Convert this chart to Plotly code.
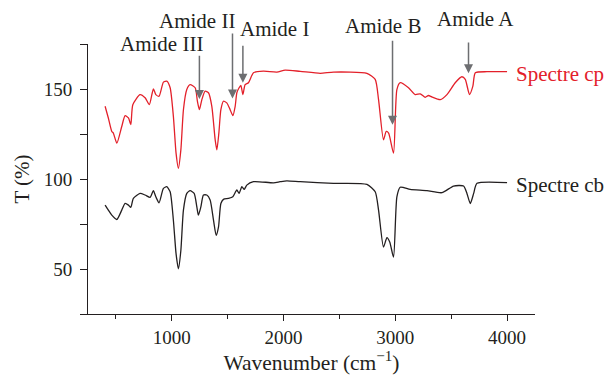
import plotly.graph_objects as go

# Wavenumber (cm-1) and transmittance (%)
cp_wavenumber = [403, 432, 463, 477, 508, 552, 582, 612, 633, 651, 716, 761, 799, 835, 857, 886, 925, 955,
                 985, 1014, 1038, 1059, 1081, 1104, 1134, 1164, 1209, 1229, 1247, 1269, 1298, 1328, 1358,
                 1388, 1403, 1421, 1439, 1462, 1492, 1522, 1546, 1567, 1582, 1602, 1618, 1636, 1656, 1686,
                 1731, 1820, 1940, 2014, 2149, 2328, 2447, 2746, 2820, 2850, 2894, 2919, 2940, 2984, 3014,
                 3044, 3118, 3178, 3223, 3268, 3297, 3327, 3402, 3462, 3536, 3596, 3626, 3664, 3694, 3716,
                 3820, 4000]
cp_transmittance = [140.4, 133.9, 126.4, 125.5, 119.9, 129.2, 135.2, 133.9, 130.2, 141.3, 146.9, 145.1, 141.3,
                    150.1, 146.9, 146.0, 153.8, 154.4, 150.7, 134.8, 114.4, 106.0, 116.2, 138.5, 149.7, 152.4,
                    150.7, 143.2, 138.5, 144.1, 148.8, 147.9, 140.4, 121.8, 116.2, 125.5, 138.5, 143.2, 142.3,
                    138.5, 135.2, 140.4, 147.9, 150.7, 152.0, 146.9, 152.4, 153.5, 159.0, 159.9, 159.4, 160.5,
                    159.8, 158.7, 159.4, 158.7, 155.3, 144.1, 121.8, 126.4, 125.5, 114.4, 149.7, 153.5, 150.7,
                    146.9, 147.3, 145.4, 146.4, 145.6, 144.1, 146.9, 153.5, 156.8, 155.3, 146.9, 151.6, 159.0,
                    159.6, 159.6]

cb_wavenumber = [403, 432, 463, 508, 552, 582, 612, 633, 656, 716, 761, 806, 835, 857, 886, 925, 955, 985,
                 1014, 1038, 1059, 1081, 1104, 1134, 1164, 1200, 1224, 1238, 1260, 1283, 1313, 1343, 1373,
                 1397, 1418, 1439, 1462, 1507, 1546, 1582, 1602, 1627, 1648, 1671, 1731, 1910, 1969, 2029,
                 2149, 2447, 2746, 2820, 2850, 2894, 2925, 2950, 2984, 3014, 3044, 3133, 3283, 3417, 3521,
                 3611, 3641, 3671, 3701, 3731, 4000]
cb_transmittance = [85.5, 82.7, 79.9, 77.5, 82.7, 86.4, 85.5, 84.2, 89.2, 92.0, 91.1, 89.8, 93.5, 90.1, 86.8,
                    94.8, 95.7, 92.9, 77.1, 58.5, 50.1, 60.3, 82.7, 92.0, 93.5, 92.0, 84.5, 79.9, 84.5, 91.1,
                    91.1, 88.3, 77.1, 68.7, 73.4, 86.4, 88.7, 89.2, 90.1, 93.9, 92.0, 95.7, 94.2, 96.6, 98.5,
                    97.9, 98.5, 99.0, 98.5, 97.6, 97.0, 92.9, 82.7, 62.2, 67.4, 65.0, 56.6, 90.1, 95.4, 94.2,
                    93.5, 92.4, 96.1, 96.1, 92.0, 86.4, 92.0, 97.6, 98.0]

series_names = ["Spectre cp", "Spectre cb"]
series_colors = ["#e3202a", "#231f20"]

band_labels = ["Amide III", "Amide II", "Amide I", "Amide B", "Amide A"]
band_arrow_x = [1247, 1543, 1636, 2975, 3655]
band_arrow_tip = [144.5, 144.7, 153.5, 130.2, 158.7]
band_arrow_tail = [169.3, 181.6, 174.9, 177.7, 176.7]
band_text_x = [904, 1224, 1916, 2892, 3721]
band_text_y = [174.9, 187.9, 183.2, 185.1, 188.8]

x_ticks = [1000, 2000, 3000, 4000]
y_ticks = [50, 100, 150]
Y_RANGE = [25, 175]

FONT = "Liberation Serif"
TXT = "#231f20"

# the page body has a default 8px margin; the figure is sized to fit inside the window
BODY = 8


def to_dom(v):
    return (v - Y_RANGE[0]) / (Y_RANGE[1] - Y_RANGE[0])


fig = go.Figure()
for xs, ys, name, col in [(cp_wavenumber, cp_transmittance, series_names[0], series_colors[0]),
                          (cb_wavenumber, cb_transmittance, series_names[1], series_colors[1])]:
    fig.add_trace(go.Scatter(x=xs, y=ys, mode="lines", name=name,
                             line=dict(color=col, width=1.3, shape="spline", smoothing=0.6)))

annotations = []
for lab, ax_, tip, tail, tx, ty in zip(band_labels, band_arrow_x, band_arrow_tip, band_arrow_tail,
                                       band_text_x, band_text_y):
    annotations.append(dict(x=ax_, y=to_dom(tip), ax=ax_, ay=to_dom(tail), xref="x", yref="y domain",
                            axref="x", ayref="y domain",
                            text="", showarrow=True, arrowhead=2, arrowsize=1.2, arrowwidth=1.5,
                            arrowcolor="#6d6e71"))
    annotations.append(dict(x=tx, y=to_dom(ty), xref="x", yref="y domain", text=lab, showarrow=False,
                            xanchor="center", yanchor="middle",
                            font=dict(family=FONT, size=21, color=TXT)))

# series labels at line ends
annotations.append(dict(x=4058, y=to_dom(158.1), xref="x", yref="y domain", text=series_names[0],
                        showarrow=False, xanchor="left", yanchor="middle",
                        font=dict(family=FONT, size=21, color=series_colors[0])))
annotations.append(dict(x=4058, y=to_dom(96.6), xref="x", yref="y domain", text=series_names[1],
                        showarrow=False, xanchor="left", yanchor="middle",
                        font=dict(family=FONT, size=21, color=series_colors[1])))

fig.update_layout(
    width=612 - BODY, height=376 - BODY,
    margin=dict(l=88 - BODY, r=77, t=44 - BODY, b=62),
    paper_bgcolor="white", plot_bgcolor="white",
    showlegend=False,
    font=dict(family=FONT, size=19, color=TXT),
    annotations=annotations,
    xaxis=dict(range=[250, 4250], tickvals=x_ticks, ticks="outside", ticklen=6, tickcolor=TXT,
               showline=True, linecolor=TXT, linewidth=1, showgrid=False, zeroline=False,
               automargin=False,
               minor=dict(dtick=500, tick0=0, ticks="outside", ticklen=4, tickcolor=TXT, showgrid=False),
               title=dict(text="Wavenumber (cm<sup>−1</sup>)", standoff=2, font=dict(size=21.5)),
               tickfont=dict(size=19)),
    yaxis=dict(range=Y_RANGE, tickvals=y_ticks, ticks="outside", ticklen=7, tickcolor=TXT,
               showline=True, linecolor=TXT, linewidth=1, showgrid=False, zeroline=False,
               automargin=False, ticklabelstandoff=4,
               minor=dict(dtick=25, tick0=0, ticks="outside", ticklen=7, tickcolor=TXT, showgrid=False),
               title=dict(text="T (%)", standoff=8, font=dict(size=21)),
               tickfont=dict(size=19)),
)

fig.write_html("out.html")
